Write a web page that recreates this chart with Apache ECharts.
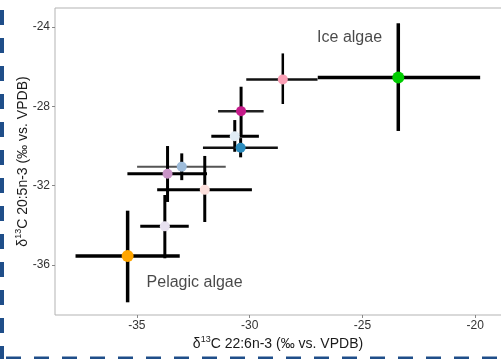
<!DOCTYPE html>
<html>
<head>
<meta charset="utf-8">
<script src="https://cdn.jsdelivr.net/npm/echarts@6/dist/echarts.min.js"></script>
<style>
  html, body { margin: 0; padding: 0; background: #fff; }
  #chart { width: 501px; height: 359px; }
</style>
</head>
<body>
<div id="chart"></div>
<script>
// group means and error-bar ends (x = 22:6n-3, y = 20:5n-3)
const xMean = [-23.41, -28.53, -30.38, -30.66, -30.40, -33.01, -33.64, -31.99, -33.76, -35.41];
const yMean = [-26.54, -26.64, -28.24, -29.51, -30.09, -31.04, -31.40, -32.21, -34.05, -35.55];
const xLow  = [-26.98, -30.15, -31.40, -31.70, -32.07, -34.99, -35.42, -34.10, -34.85, -37.72];
const xHigh = [-19.78, -26.99, -29.38, -29.59, -28.75, -31.06, -31.89, -29.90, -32.70, -33.10];
const yLow  = [-29.24, -27.88, -29.45, -30.29, -30.57, -31.72, -32.82, -33.83, -35.66, -37.88];
const yHigh = [-23.81, -25.33, -27.01, -28.69, -29.60, -30.37, -30.00, -30.50, -32.47, -33.26];

const xTicks = [-35, -30, -25, -20];
const yTicks = [-36, -32, -28, -24];

const notes = ["Ice algae", "Pelagic algae"];
const noteX = [-25.57, -32.44];
const noteY = [-24.55, -36.91];

// styling per group
const pointColors = ["#00cd00", "#fa9fb5", "#c51b8a", "#e0ecf4", "#2b8cbe",
                     "#9ebcda", "#c994c7", "#fde0dd", "#e7e1ef", "#ffa500"];
const pointSize = [12, 10, 10, 10, 10, 10, 10, 10, 10, 12];
const hWidth = [3.5, 2.5, 2.5, 3, 2.5, 2, 3, 3, 3, 3.5];
const hColor = ["#000", "#111", "#222", "#000", "#111", "#555", "#000", "#000", "#000", "#000"];
const vWidth = [3.5, 2.5, 3, 3, 3, 3, 3, 3, 3, 3.5];

const chart = echarts.init(document.getElementById("chart"));

const barData = xMean.map((x, i) => [x, yMean[i], xLow[i], xHigh[i], yLow[i], yHigh[i]]);
const pointData = xMean.map((x, i) => ({
  value: [x, yMean[i]],
  symbolSize: pointSize[i],
  itemStyle: { color: pointColors[i], opacity: 1 }
}));

const titleRich = {
  t: { fontSize: 14, color: "#1a1a1a", fontFamily: "Liberation Sans" },
  s: { fontSize: 9, color: "#1a1a1a", fontFamily: "Liberation Sans", padding: [0, 0, 10, 0] }
};

const option = {
  animation: false,
  grid: {
    left: 55, top: 8, right: -6, bottom: 44,
    outerBoundsMode: "none",
    show: true, borderColor: "#b3b3b3", borderWidth: 1, backgroundColor: "#fff"
  },
  xAxis: {
    type: "value",
    min: -38.63, max: -18.59,
    axisLine: { show: false },
    splitLine: { show: false },
    axisTick: { show: true, length: 3, lineStyle: { color: "#888" }, customValues: xTicks },
    axisLabel: { color: "#333", fontSize: 12, fontFamily: "Liberation Sans", margin: 5, customValues: xTicks },
    name: "{t|δ}{s|13}{t|C 22:6n-3 (‰ vs. VPDB)}",
    nameLocation: "middle",
    nameGap: 20,
    nameMoveOverlap: false,
    nameTextStyle: { rich: titleRich, padding: [0, 6, 0, 0] }
  },
  yAxis: {
    type: "value",
    min: -38.52, max: -23.04,
    axisLine: { show: false },
    splitLine: { show: false },
    axisTick: { show: true, length: 3, lineStyle: { color: "#888" }, customValues: yTicks },
    axisLabel: { color: "#333", fontSize: 12, fontFamily: "Liberation Sans", margin: 5, customValues: yTicks },
    name: "{t|δ}{s|13}{t|C 20:5n-3 (‰ vs. VPDB)}",
    nameLocation: "middle",
    nameGap: 22,
    nameMoveOverlap: false,
    nameTextStyle: { rich: titleRich }
  },
  graphic: [
    {
      type: "line", silent: true, z: 100,
      shape: { x1: 2, y1: -18, x2: 2, y2: 359 },
      style: { stroke: "#1f4e89", lineWidth: 4, lineDash: [15, 13] }
    },
    {
      type: "line", silent: true, z: 100,
      shape: { x1: -22, y1: 358, x2: 501, y2: 358 },
      style: { stroke: "#1f4e89", lineWidth: 3, lineDash: [15, 13] }
    }
  ],
  series: [
    {
      type: "custom",
      data: barData,
      encode: { x: [0, 2, 3], y: [1, 4, 5] },
      z: 2,
      renderItem: function (params, api) {
        const i = params.dataIndex;
        const c = api.coord([api.value(0), api.value(1)]);
        const l = api.coord([api.value(2), api.value(1)]);
        const r = api.coord([api.value(3), api.value(1)]);
        const b = api.coord([api.value(0), api.value(4)]);
        const t = api.coord([api.value(0), api.value(5)]);
        return {
          type: "group",
          children: [
            {
              type: "line",
              shape: { x1: l[0], y1: l[1], x2: r[0], y2: r[1] },
              style: { stroke: hColor[i], lineWidth: hWidth[i] }
            },
            {
              type: "line",
              shape: { x1: c[0], y1: t[1], x2: c[0], y2: b[1] },
              style: { stroke: "#000", lineWidth: vWidth[i] }
            }
          ]
        };
      }
    },
    {
      type: "scatter",
      data: pointData,
      z: 3,
      symbol: "circle"
    },
    {
      type: "scatter",
      symbolSize: 0,
      z: 4,
      data: notes.map((n, i) => ({ value: [noteX[i], noteY[i]], name: n })),
      label: {
        show: true,
        position: "inside",
        formatter: p => p.name,
        color: "#1a1a1a",
        fontSize: 16,
        fontFamily: "Liberation Sans"
      }
    }
  ]
};

chart.setOption(option);
</script>
</body>
</html>
